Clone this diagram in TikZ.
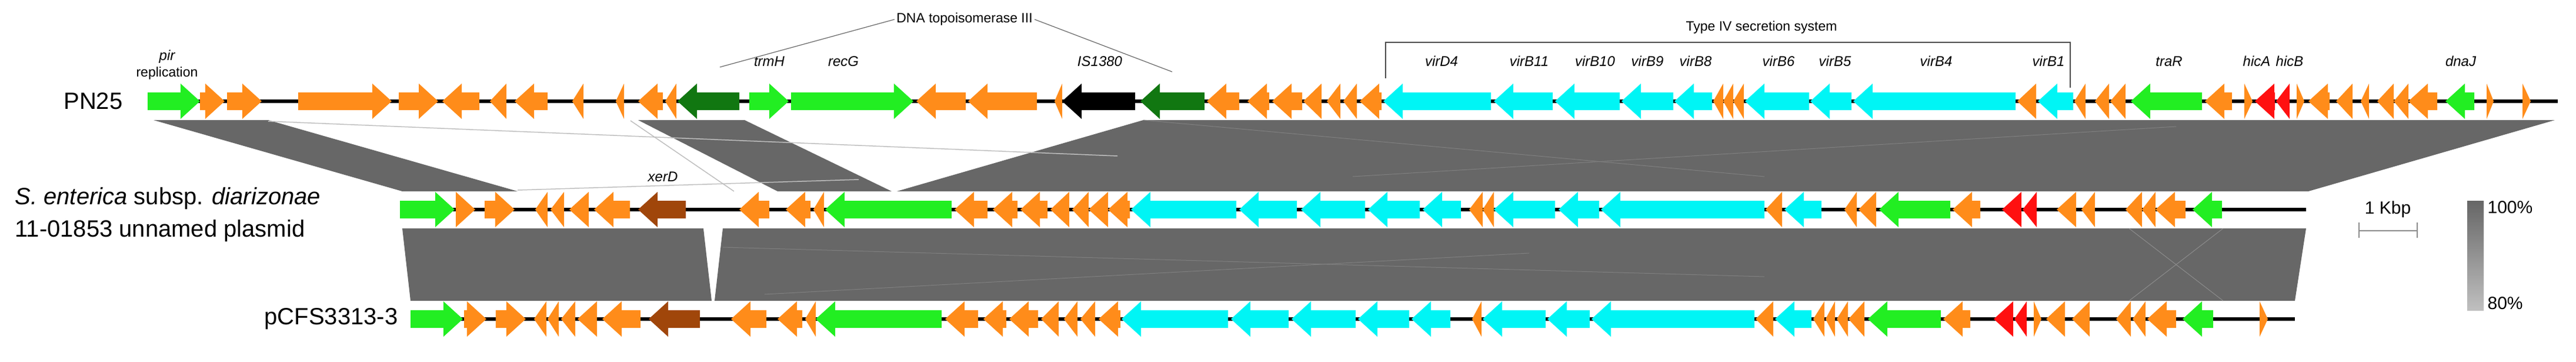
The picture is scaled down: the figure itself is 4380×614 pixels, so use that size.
\documentclass[tikz,border=0pt]{standalone}
\usepackage{fontspec}
\setmainfont{Liberation Sans}
\definecolor{og}{HTML}{FF8C1A}
\definecolor{gr}{HTML}{22EE22}
\definecolor{dg}{HTML}{117711}
\definecolor{cy}{HTML}{00F5F5}
\definecolor{rd}{HTML}{FF1010}
\definecolor{br}{HTML}{A0460A}
\definecolor{bk}{HTML}{000000}
\definecolor{band}{HTML}{676767}
\newcommand\gene[5]{%
  \pgfmathsetmacro\hl{min(33,#2-#1)}%
  \if r#4%
    \fill[#5] (#1,#3-15) -- (#2-\hl,#3-15) -- (#2-\hl,#3-30) -- (#2,#3) -- (#2-\hl,#3+30) -- (#2-\hl,#3+15) -- (#1,#3+15) -- cycle;
  \else
    \fill[#5] (#2,#3-15) -- (#1+\hl,#3-15) -- (#1+\hl,#3-30) -- (#1,#3) -- (#1+\hl,#3+30) -- (#1+\hl,#3+15) -- (#2,#3+15) -- cycle;
  \fi}
\tikzset{
  glab/.style={font=\fontsize{24}{24}\selectfont\itshape},
  big/.style={font=\fontsize{40}{44}\selectfont},
  small/.style={font=\fontsize{23}{23}\selectfont},
  backbone/.style={line width=6pt,black},
  faint/.style={line width=1.5pt,black!25}
}
\begin{document}
\begin{tikzpicture}[x=1pt,y=-1pt]
\useasboundingbox[fill=white] (0,0) rectangle (4380,614);
% bands
\fill[band] (261,204) -- (456,204) -- (880,325) -- (684,325) -- cycle;
\fill[band] (1085,204) -- (1266,204) -- (1516,325) -- (1322,325) -- cycle;
\fill[band] (1944,204) -- (4344,204) -- (3925,325) -- (1525,325) -- cycle;
\fill[band] (684,388) -- (1196,388) -- (1210,511) -- (698,511) -- cycle;
\fill[band] (1229,388) -- (3921,388) -- (3902,511) -- (1215,511) -- cycle;
\draw[faint] (456,206) -- (1900,265);
\draw[faint] (880,323) -- (1460,305);
\draw[faint] (1072,205) -- (1248,325);
\draw[black!50,line width=1pt] (1944,204) -- (3000,300);
\draw[black!50,line width=1pt] (2300,300) -- (3700,215);
\draw[black!50,line width=1pt] (1229,420) -- (3000,470);
\draw[black!50,line width=1pt] (1300,500) -- (2600,430);
\draw[black!45,line width=1pt] (3620,388) -- (3780,511);
\draw[black!45,line width=1pt] (3780,388) -- (3620,511);
% backbones
\draw[backbone] (251,172) -- (4349,172);
\draw[backbone] (680,356) -- (3921,356);
\draw[backbone] (698,542) -- (3902,542);
% top row
\foreach \a/\b/\d/\c in {251/340/r/gr,340/382/r/og,386/445/r/og,507/666/r/og,678/745/r/og,752/815/l/og,833/861/l/og,875/931/l/og,973/992/l/og,1047/1061/l/og,1085/1127/l/og,1131/1150/l/og,1152/1257/l/dg,1274/1341/r/gr,1345/1553/r/gr,1558/1642/l/og,1646/1763/l/og,1793/1806/l/og,1806/1930/l/bk,1939/2048/l/dg,2052/2107/l/og,2121/2158/l/og,2163/2214/l/og,2216/2247/l/og,2256/2279/l/og,2284/2307/l/og,2312/2349/l/og,2352/2535/l/cy,2540/2640/l/cy,2644/2754/l/cy,2757/2845/l/cy,2847/2911/l/cy,2913/2930/l/og,2930/2947/l/og,2947/2965/l/og,2967/3076/l/cy,3078/3148/l/cy,3151/3427/l/cy,3430/3462/l/og,3465/3525/l/cy,3527/3546/l/og,3562/3586/l/og,3588/3614/l/og,3623/3744/l/gr,3749/3795/l/og,3816/3830/r/og,3834/3868/l/rd,3870/3893/l/rd,3905/3918/r/og,3925/3961/l/og,3972/4000/l/og,4014/4028/l/og,4042/4070/l/og,4070/4095/l/og,4095/4144/l/og,4158/4207/l/gr,4228/4240/r/og,4289/4303/r/og}
  {\gene{\a}{\b}{172}{\d}{\c}}
% middle row
\foreach \a/\b/\d/\c in {680/773/r/gr,775/808/r/og,824/875/r/og,910/931/l/og,936/959/l/og,968/1001/l/og,1010/1071/l/og,1085/1166/l/br,1257/1308/l/og,1336/1378/l/og,1383/1401/l/og,1403/1618/l/gr,1623/1679/l/og,1688/1730/l/og,1735/1781/l/og,1786/1818/l/og,1823/1851/l/og,1851/1884/l/og,1884/1921/l/og,1923/2102/l/cy,2107/2205/l/cy,2212/2321/l/cy,2326/2414/l/cy,2419/2484/l/cy,2498/2521/l/og,2521/2540/l/og,2540/2644/l/cy,2650/2719/l/cy,2722/3000/l/cy,3002/3030/l/og,3034/3097/l/cy,3136/3157/l/og,3160/3190/l/og,3195/3316/l/gr,3320/3367/l/og,3404/3437/l/rd,3439/3463/l/rd,3497/3530/l/og,3539/3562/l/og,3614/3642/l/og,3642/3665/l/og,3665/3716/l/og,3728/3778/l/gr}
  {\gene{\a}{\b}{356}{\d}{\c}}
% bottom row
\foreach \a/\b/\d/\c in {698/787/r/gr,789/827/r/og,843/894/r/og,908/929/l/og,931/950/l/og,954/978/l/og,982/1015/l/og,1024/1089/l/og,1103/1190/l/br,1243/1303/l/og,1322/1364/l/og,1369/1387/l/og,1387/1601/l/gr,1607/1663/l/og,1672/1711/l/og,1716/1765/l/og,1770/1800/l/og,1809/1832/l/og,1837/1862/l/og,1868/1905/l/og,1907/2088/l/cy,2093/2191/l/cy,2196/2305/l/cy,2309/2396/l/cy,2400/2466/l/cy,2503/2519/l/og,2521/2628/l/cy,2631/2703/l/cy,2706/2983/l/cy,2985/3015/l/og,3018/3080/l/cy,3083/3102/l/og,3104/3120/l/og,3123/3142/l/og,3143/3170/l/og,3176/3300/l/gr,3304/3350/l/og,3390/3423/l/rd,3425/3446/l/rd,3458/3471/r/og,3479/3511/l/og,3523/3553/l/og,3598/3623/l/og,3626/3648/l/og,3651/3700/l/og,3711/3763/l/gr,3842/3856/r/og}
  {\gene{\a}{\b}{542}{\d}{\c}}
% row labels
\node[big,anchor=east] (pn) at (212,172) {PN25};
\node[big,anchor=west] (se1) at (22,337) {\textit{S. enterica} subsp. \textit{diarizonae}};
\node[big,anchor=west] (se2) at (22,392) {11-01853 unnamed plasmid};
\node[big,anchor=east] (pc) at (680,542) {pCFS3313-3};
% gene labels
\node[glab] (l1) at (284,96) {pir};
\node[small] (l2) at (284,125) {replication};
\foreach \x/\t in {1308/trmH,1434/recG,1870/IS1380,2451/virD4,2600/virB11,2712/virB10,2801/virB9,2883/virB8,3024/virB6,3120/virB5,3292/virB4,3483/virB1,3688/traR,3837/hicA,3893/hicB,4184/dnaJ}
  \node[glab] at (\x,104) {\t};
\node[glab] (xd) at (1127,300) {xerD};
% DNA topoisomerase III
\node[small] (topo) at (1640,33) {DNA topoisomerase III};
\draw[black!60,line width=1.2pt] (1224,114) -- (topo.west);
\draw[black!60,line width=1.2pt] (topo.east) -- (1993,122);
% T4SS
\node[small] (t4) at (2995,47) {Type IV secretion system};
\draw[black!70,line width=2pt] (2356,133) -- (2356,72) -- (3520,72) -- (3520,149);
% scale bar
\node[font=\fontsize{30}{30}\selectfont] (kb) at (4060,356) {1 Kbp};
\draw[black!45,line width=2pt] (4011,392) -- (4110,392);
\draw[black!45,line width=2pt] (4011,378) -- (4011,404);
\draw[black!45,line width=2pt] (4110,378) -- (4110,404);
% legend
\shade[top color=black!60,bottom color=black!25] (4195,341) rectangle (4223,527);
\node[font=\fontsize{30}{30}\selectfont,anchor=west] (p100) at (4226,352) {100\%};
\node[font=\fontsize{30}{30}\selectfont,anchor=west] (p80) at (4226,515) {80\%};
\end{tikzpicture}
\end{document}
